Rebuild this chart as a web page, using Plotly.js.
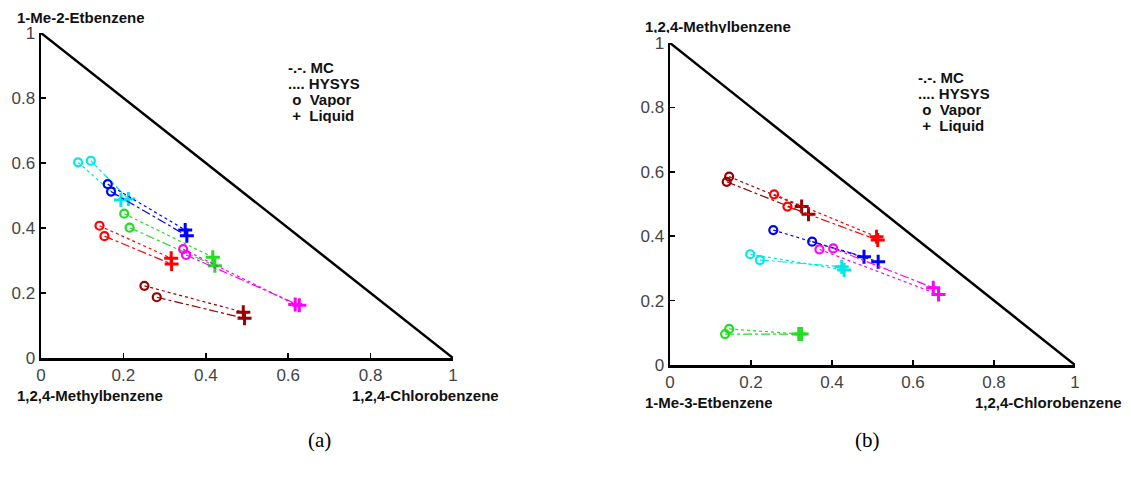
<!DOCTYPE html>
<html><head><meta charset="utf-8">
<script src="https://cdn.plot.ly/plotly-3.0.1.min.js"></script>
<style>html,body{margin:0;padding:0;background:#fff}#c{width:1131px;height:479px}</style>
</head><body><div id="c"></div>
<script>
// Panel (a): systems in order cyan, blue, green, red, magenta, dark red
const aColors = ['#00E8E8', '#0000FF', '#22DD22', '#FF0000', '#FF00FF', '#990000'];
const aVapHY_x = [0.090, 0.162, 0.202, 0.142, 0.345, 0.251];
const aVapHY_y = [0.602, 0.535, 0.444, 0.407, 0.335, 0.222];
const aLiqHY_x = [0.194, 0.350, 0.417, 0.316, 0.617, 0.491];
const aLiqHY_y = [0.486, 0.394, 0.310, 0.307, 0.165, 0.141];
const aVapMC_x = [0.121, 0.170, 0.215, 0.154, 0.352, 0.281];
const aVapMC_y = [0.607, 0.512, 0.401, 0.375, 0.317, 0.187];
const aLiqMC_x = [0.212, 0.354, 0.422, 0.317, 0.627, 0.494];
const aLiqMC_y = [0.489, 0.376, 0.284, 0.289, 0.162, 0.122];

// Panel (b): systems in order dark red, red, blue, magenta, cyan, green
const bColors = ['#990000', '#FF0000', '#0000FF', '#FF00FF', '#00E8E8', '#22DD22'];
const bVapHY_x = [0.146, 0.257, 0.255, 0.369, 0.198, 0.146];
const bVapHY_y = [0.585, 0.530, 0.419, 0.359, 0.344, 0.112];
const bLiqHY_x = [0.325, 0.510, 0.514, 0.663, 0.430, 0.325];
const bLiqHY_y = [0.492, 0.398, 0.321, 0.219, 0.295, 0.096];
const bVapMC_x = [0.140, 0.290, 0.351, 0.403, 0.222, 0.136];
const bVapMC_y = [0.569, 0.492, 0.383, 0.362, 0.326, 0.096];
const bLiqMC_x = [0.342, 0.513, 0.479, 0.650, 0.424, 0.318];
const bLiqMC_y = [0.468, 0.388, 0.336, 0.240, 0.305, 0.096];

const ticks = [0, 0.2, 0.4, 0.6, 0.8, 1];
const tickText = ['0', '0.2', '0.4', '0.6', '0.8', '1'];
const hypX = [0, 1], hypY = [1, 0];

const aTitles = {y: '1-Me-2-Etbenzene', xl: '1,2,4-Methylbenzene', xr: '1,2,4-Chlorobenzene', cap: '(a)'};
const bTitles = {y: '1,2,4-Methylbenzene', xl: '1-Me-3-Etbenzene', xr: '1,2,4-Chlorobenzene', cap: '(b)'};
const legendLines = ['-.-. MC', '.... HYSYS', '&nbsp;o &nbsp;Vapor', '&nbsp;+ &nbsp;Liquid'];

const traces = [];
function addPanel(cols, vhx, vhy, lhx, lhy, vmx, vmy, lmx, lmy, xa, ya) {
  traces.push({x: hypX, y: hypY, xaxis: xa, yaxis: ya, mode: 'lines', line: {color: '#000', width: 2.5}, hoverinfo: 'skip'});
  for (let i = 0; i < cols.length; i++) {
    const c = cols[i];
    traces.push({x: [vhx[i], lhx[i]], y: [vhy[i], lhy[i]], xaxis: xa, yaxis: ya, mode: 'lines', line: {color: c, width: 1.2, dash: 'dot'}});
    traces.push({x: [vmx[i], lmx[i]], y: [vmy[i], lmy[i]], xaxis: xa, yaxis: ya, mode: 'lines', line: {color: c, width: 1.2, dash: 'dashdot'}});
    traces.push({x: [vhx[i], vmx[i]], y: [vhy[i], vmy[i]], xaxis: xa, yaxis: ya, mode: 'markers',
      marker: {symbol: 'circle-open', size: 8, color: c, line: {width: 2.2, color: c}}});
    traces.push({x: [lhx[i], lmx[i]], y: [lhy[i], lmy[i]], xaxis: xa, yaxis: ya, mode: 'markers',
      marker: {symbol: 'cross-thin-open', size: 10, color: c, line: {width: 3, color: c}}});
  }
}
addPanel(aColors, aVapHY_x, aVapHY_y, aLiqHY_x, aLiqHY_y, aVapMC_x, aVapMC_y, aLiqMC_x, aLiqMC_y, 'x', 'y');
addPanel(bColors, bVapHY_x, bVapHY_y, bLiqHY_x, bLiqHY_y, bVapMC_x, bVapMC_y, bLiqMC_x, bLiqMC_y, 'x2', 'y2');

const W = 1131, H = 479;
const px = v => v / W, py = v => 1 - v / H;

function axis(dom, anchor) {
  return {domain: dom, anchor: anchor, range: [0, 1], tickvals: ticks, ticktext: tickText,
    showgrid: false, zeroline: false, showline: true, linecolor: '#000', linewidth: 2.5,
    ticks: 'inside', ticklen: 5, tickwidth: 1.5, tickcolor: '#000',
    tickfont: {family: 'Arial, sans-serif', size: 17, color: '#444'}, fixedrange: true};
}

const bold = {family: 'Arial, sans-serif', size: 15, color: '#111', weight: 'bold'};
const ann = [];
function addText(txt, x, y, xanchor, font, h) {
  const a = {text: txt, x: px(x), y: py(y), xref: 'paper', yref: 'paper', xanchor: xanchor, yanchor: 'middle', showarrow: false, font: font};
  if (h) { a.height = h; a.valign = 'middle'; }
  ann.push(a);
}
addText('<b>' + aTitles.y + '</b>', 15, 17, 'left', bold, 11);
addText('<b>' + aTitles.xl + '</b>', 15, 395, 'left', bold, 17);
addText('<b>' + aTitles.xr + '</b>', 350, 395, 'left', bold, 17);
addText('<b>' + bTitles.y + '</b>', 643, 26, 'left', bold, 13);
addText('<b>' + bTitles.xl + '</b>', 643, 402, 'left', bold, 17);
addText('<b>' + bTitles.xr + '</b>', 973, 402, 'left', bold, 17);
const legA = [67, 83, 99, 115], legB = [77, 93, 109, 125];
legendLines.forEach((t, i) => {
  addText('<b>' + t + '</b>', 286, legA[i], 'left', bold, 16);
  addText('<b>' + t + '</b>', 916, legB[i], 'left', bold, 16);
});
const serif = {family: 'Times New Roman, Liberation Serif, serif', size: 21, color: '#000'};
addText(aTitles.cap, 319, 440, 'center', serif);
addText(bTitles.cap, 867, 440, 'center', serif);

const layout = {
  width: W, height: H, margin: {l: 0, r: 0, t: 0, b: 0},
  paper_bgcolor: '#fff', plot_bgcolor: '#fff', showlegend: false,
  xaxis: axis([px(41), px(453)], 'y'),
  yaxis: axis([1 - 358 / H, 1 - 33 / H], 'x'),
  xaxis2: axis([px(670), px(1075)], 'y2'),
  yaxis2: axis([1 - 365 / H, 1 - 43 / H], 'x2'),
  annotations: ann
};
Plotly.newPlot('c', traces, layout, {staticPlot: true});
</script></body></html>
